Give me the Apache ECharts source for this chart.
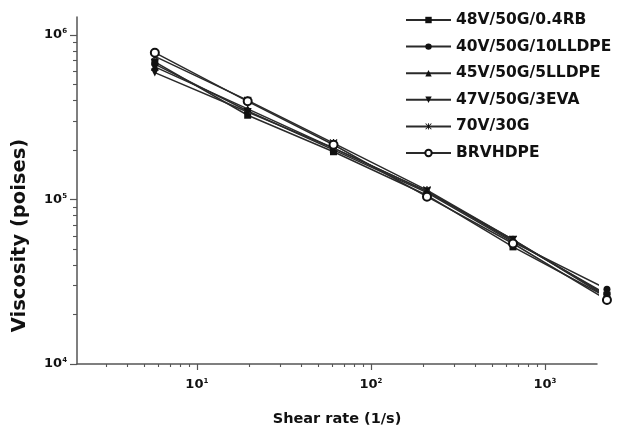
<!DOCTYPE html>
<html>
<head>
<meta charset="utf-8">
<script src="https://cdn.jsdelivr.net/npm/echarts@6/dist/echarts.min.js"></script>
<style>
  html, body { margin: 0; padding: 0; background: #fff; }
  #chart { width: 621px; height: 427px; }
</style>
</head>
<body>
<div id="chart"></div>
<script>
// Shear rates (1/s) shared by every blend
const shearRates = [5.74, 19.6, 61, 210, 655, 2270];

// Apparent viscosity (poises) per blend
const rb48 = [6.85e5, 3.25e5, 1.95e5, 1.06e5, 5.15e4, 2.55e4];
const lldpe40 = [6.65e5, 3.45e5, 2.0e5, 1.1e5, 5.5e4, 2.85e4];
const lldpe45 = [6.4e5, 3.55e5, 2.05e5, 1.12e5, 5.6e4, 2.65e4];
const eva47 = [5.9e5, 3.4e5, 2.05e5, 1.12e5, 5.7e4, 2.6e4];
const g70 = [7.4e5, 4.0e5, 2.2e5, 1.14e5, 5.7e4, 2.55e4];
const brvhdpe = [7.8e5, 3.95e5, 2.15e5, 1.04e5, 5.4e4, 2.45e4];

const seriesNames = ['48V/50G/0.4RB', '40V/50G/10LLDPE', '45V/50G/5LLDPE', '47V/50G/3EVA', '70V/30G', 'BRVHDPE'];
const seriesValues = [rb48, lldpe40, lldpe45, eva47, g70, brvhdpe];

// Tick positions
const xMajorTicks = [10, 100, 1000];
const xMinorTicks = [3, 4, 5, 6, 7, 8, 9, 20, 30, 40, 50, 60, 70, 80, 90, 200, 300, 400, 500, 600, 700, 800, 900];
const yMajorTicks = [1e4, 1e5, 1e6];
const yMinorTicks = [2e4, 3e4, 4e4, 5e4, 6e4, 7e4, 8e4, 9e4, 2e5, 3e5, 4e5, 5e5, 6e5, 7e5, 8e5, 9e5];

const INK = '#111';
const AXIS = '#555';
const FONT = 'DejaVu Sans';

const starPath = 'path://M0,1L1,0L10,9L9,10Z M9,0L10,1L1,10L0,9Z M4.3,0H5.7V10H4.3Z';
const downTriPath = 'path://M0,0L10,0L5,9Z';
const symbols = ['rect', 'circle', 'triangle', downTriPath, starPath, 'emptyCircle'];
const symbolSizes = [7, 7, 8, 8, 8, 8];

function styleFor(i) {
  // emptyCircle strokes with the item colour and fills white
  return i === 5
    ? { color: '#111', borderColor: '#111', borderWidth: 1.3 }
    : { color: '#111', borderColor: '#111', borderWidth: 0 };
}

function powLabel(v) {
  const e = Math.round(Math.log10(v));
  return '{b|10}{s|' + e + '}';
}
const powRich = {
  b: { fontFamily: FONT, fontWeight: 'bold', fontSize: 13, color: INK },
  s: { fontFamily: FONT, fontWeight: 'bold', fontSize: 7, color: INK, padding: [0, 0, 7, 0] }
};

const chart = echarts.init(document.getElementById('chart'), null, { renderer: 'canvas' });

const series = seriesNames.map((name, i) => ({
  name: name,
  type: 'line',
  data: shearRates.map((x, j) => [x, seriesValues[i][j]]),
  symbol: symbols[i],
  symbolSize: symbolSizes[i],
  clip: false,
  lineStyle: { color: '#2a2a2a', width: 1.5 },
  itemStyle: styleFor(i),
  emphasis: { disabled: true },
  z: 3 + i
}));

const option = {
  animation: false,
  backgroundColor: '#fff',
  grid: { left: 77, right: 24, top: 17, bottom: 63, containLabel: false, outerBoundsMode: 'none' },
  legend: {
    orient: 'vertical',
    left: 405,
    top: 12,
    padding: 0,
    itemWidth: 45,
    itemHeight: 8,
    itemGap: 10.6,
    textStyle: { fontFamily: FONT, fontWeight: 'bold', fontSize: 15.5, color: INK, lineHeight: 16 },
    data: seriesNames.map((name, i) => ({
      name: name,
      itemStyle: styleFor(i)
    }))
  },
  xAxis: [
    {
      type: 'log', logBase: 10, min: 2.05, max: 1990,
      name: 'Shear rate (1/s)', nameLocation: 'middle', nameGap: 48,
      nameTextStyle: { fontFamily: FONT, fontWeight: 'bold', fontSize: 14.5, color: INK },
      axisLine: { show: true, lineStyle: { color: AXIS, width: 1.5 } },
      axisTick: { show: true, length: 6, customValues: xMajorTicks, lineStyle: { color: AXIS, width: 1.2 } },
      axisLabel: { show: true, margin: 14, customValues: xMajorTicks, formatter: powLabel, rich: powRich },
      splitLine: { show: false }
    },
    {
      type: 'log', logBase: 10, min: 2.05, max: 1990, position: 'bottom', offset: 0,
      axisLine: { show: false },
      axisTick: { show: true, length: 3, customValues: xMinorTicks, lineStyle: { color: AXIS, width: 1.1 } },
      axisLabel: { show: false },
      splitLine: { show: false }
    }
  ],
  yAxis: [
    {
      type: 'log', logBase: 10, min: 1e4, max: 1.285e6,
      name: 'Viscosity (poises)', nameLocation: 'middle', nameGap: 47, nameRotate: 90,
      nameTextStyle: { fontFamily: FONT, fontWeight: 'bold', fontSize: 19.5, color: INK, padding: [0, 90, 0, 0] },
      axisLine: { show: true, lineStyle: { color: AXIS, width: 1.5 } },
      axisTick: { show: true, length: 7, customValues: yMajorTicks, lineStyle: { color: AXIS, width: 1.2 } },
      axisLabel: { show: true, margin: 10, customValues: yMajorTicks, formatter: powLabel, rich: powRich },
      splitLine: { show: false }
    },
    {
      type: 'log', logBase: 10, min: 1e4, max: 1.285e6, position: 'left', offset: 0,
      axisLine: { show: false },
      axisTick: { show: true, length: 4, customValues: yMinorTicks, lineStyle: { color: AXIS, width: 1.1 } },
      axisLabel: { show: false },
      splitLine: { show: false }
    }
  ],
  series: series
};

chart.setOption(option);
</script>
</body>
</html>
